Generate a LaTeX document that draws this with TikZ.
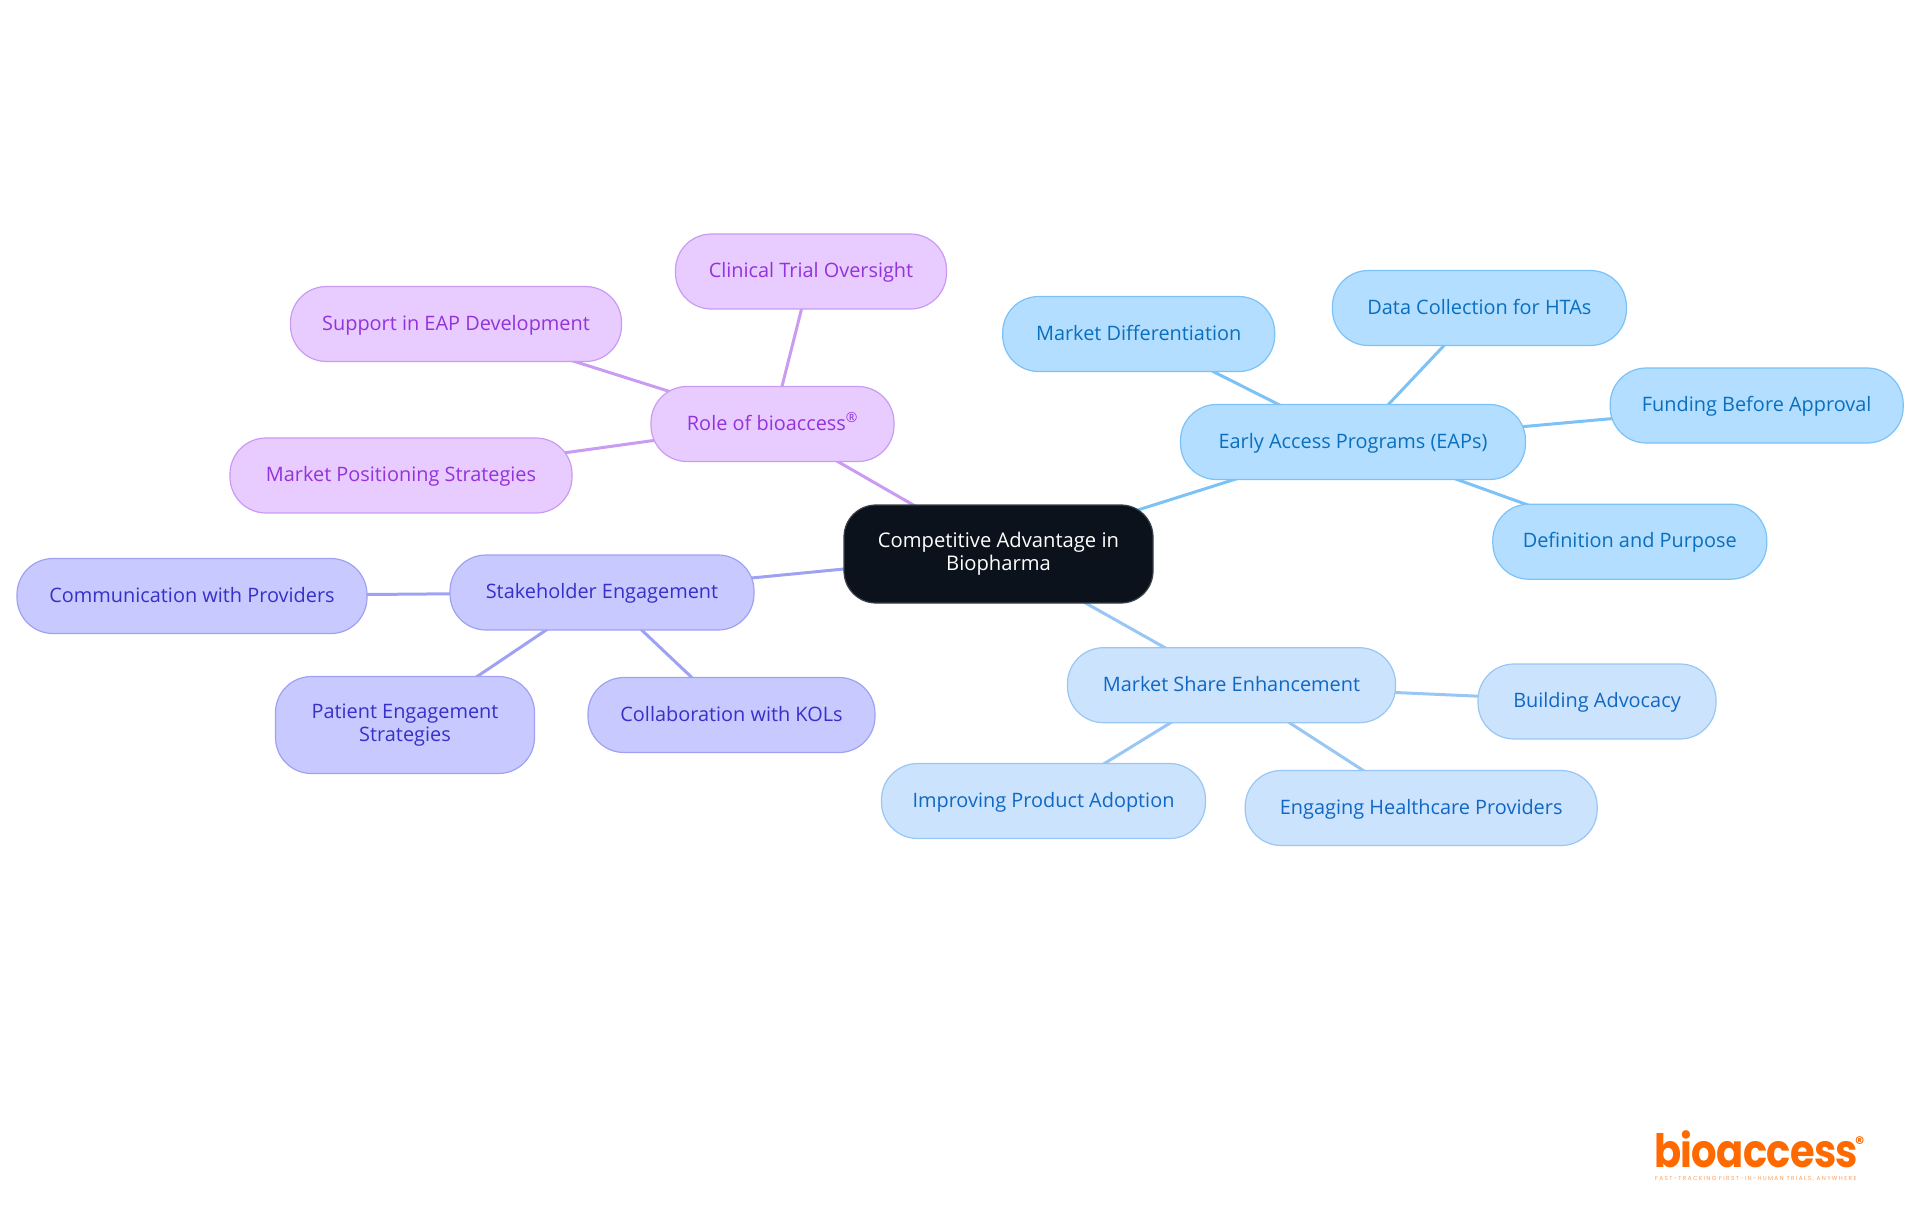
\documentclass[tikz,border=0pt]{standalone}
\usepackage{fontspec}
\setmainfont{Open Sans}
\newfontfamily\logofont[LetterSpace=-1.5,FakeStretch=0.87]{Poppins}
\newfontfamily\markfont{Poppins}
\newfontfamily\tagfont[LetterSpace=23]{Poppins}
\usetikzlibrary{backgrounds}
\definecolor{rootFill}{HTML}{0B121B}
\definecolor{rootDraw}{HTML}{3A4048}
\definecolor{roleFill}{HTML}{E8CCFF}
\definecolor{roleDraw}{HTML}{C99BF3}
\definecolor{roleText}{HTML}{9333DB}
\definecolor{holderFill}{HTML}{C8CAFF}
\definecolor{holderDraw}{HTML}{9FA1F2}
\definecolor{holderText}{HTML}{3730C8}
\definecolor{eapFill}{HTML}{B3DEFF}
\definecolor{eapDraw}{HTML}{7CC2F6}
\definecolor{eapText}{HTML}{0A6FBE}
\definecolor{shareFill}{HTML}{CCE3FD}
\definecolor{shareDraw}{HTML}{9AC6F3}
\definecolor{shareText}{HTML}{1068C4}
\definecolor{logoOrange}{HTML}{FF6A00}
\tikzset{mapNode/.style={rectangle,rounded corners=36pt,line width=1.2pt,inner sep=0pt,minimum height=75pt,align=center,text height=16.8pt,text depth=4.8pt,font=\fontsize{19.9}{23}\selectfont}}
\tikzset{twoLines/.style={text height={},text depth={}}}
\tikzset{rootNode/.style={mapNode,twoLines,rounded corners=32pt,minimum height=98pt,fill=rootFill,draw=rootDraw,text=white}}
\tikzset{roleNode/.style={mapNode,fill=roleFill,draw=roleDraw,text=roleText}}
\tikzset{holderNode/.style={mapNode,fill=holderFill,draw=holderDraw,text=holderText}}
\tikzset{eapNode/.style={mapNode,fill=eapFill,draw=eapDraw,text=eapText}}
\tikzset{shareNode/.style={mapNode,fill=shareFill,draw=shareDraw,text=shareText}}
\tikzset{mapEdge/.style={line width=3pt}}

\begin{document}
\begin{tikzpicture}[x=1pt,y=-1pt]
\useasboundingbox (0,0) rectangle (1920,1215);

% centre
\node[rootNode,font=\fontsize{20.2}{23}\selectfont,minimum width=309pt] (root) at (998.5,554) {Competitive Advantage in\\Biopharma};

% role branch
\node[roleNode,minimum width=243pt] (role) at (772.5,424) {Role of bioaccess\textsuperscript{®}};
\node[roleNode,minimum width=271pt] (oversight) at (811,271.5) {Clinical Trial Oversight};
\node[roleNode,minimum width=331pt] (support) at (456,324) {Support in EAP Development};
\node[roleNode,minimum width=342pt] (positioning) at (401,475.5) {Market Positioning Strategies};

% stakeholder branch
\node[holderNode,minimum width=304pt] (holder) at (602,592.5) {Stakeholder Engagement};
\node[holderNode,minimum width=350pt] (providers) at (192,596) {Communication with Providers};
\node[holderNode,twoLines,minimum width=259pt,minimum height=97pt] (patient) at (405,725) {Patient Engagement\\Strategies};
\node[holderNode,minimum width=287pt] (kols) at (731.5,715) {Collaboration with KOLs};

% early access branch
\node[eapNode,minimum width=345pt] (eap) at (1353,442) {Early Access Programs (EAPs)};
\node[eapNode,minimum width=272pt] (differentiation) at (1138.7,334) {Market Differentiation};
\node[eapNode,minimum width=294pt] (hta) at (1479.4,308) {Data Collection for HTAs};
\node[eapNode,minimum width=293pt] (funding) at (1756.7,405.5) {Funding Before Approval};
\node[eapNode,minimum width=274pt] (definition) at (1629.8,541.7) {Definition and Purpose};

% market share branch
\node[shareNode,minimum width=328pt] (share) at (1231.5,685.2) {Market Share Enhancement};
\node[shareNode,minimum width=238pt] (advocacy) at (1597,701.5) {Building Advocacy};
\node[shareNode,minimum width=352pt] (healthcare) at (1421.2,808) {Engaging Healthcare Providers};
\node[shareNode,minimum width=324pt] (adoption) at (1043.5,801) {Improving Product Adoption};

% edges
\begin{scope}[on background layer]
\draw[mapEdge,roleDraw] (root.center) -- (role.center);
\draw[mapEdge,roleDraw] (role.center) -- (oversight.center);
\draw[mapEdge,roleDraw] (role.center) -- (support.center);
\draw[mapEdge,roleDraw] (role.center) -- (positioning.center);
\draw[mapEdge,holderDraw] (root.center) -- (holder.center);
\draw[mapEdge,holderDraw] (holder.center) -- (providers.center);
\draw[mapEdge,holderDraw] (holder.center) -- (patient.center);
\draw[mapEdge,holderDraw] (holder.center) -- (kols.center);
\draw[mapEdge,eapDraw] (root.center) -- (eap.center);
\draw[mapEdge,eapDraw] (eap.center) -- (differentiation.center);
\draw[mapEdge,eapDraw] (eap.center) -- (hta.center);
\draw[mapEdge,eapDraw] (eap.center) -- (funding.center);
\draw[mapEdge,eapDraw] (eap.center) -- (definition.center);
\draw[mapEdge,shareDraw] (root.center) -- (share.center);
\draw[mapEdge,shareDraw] (share.center) -- (advocacy.center);
\draw[mapEdge,shareDraw] (share.center) -- (healthcare.center);
\draw[mapEdge,shareDraw] (share.center) -- (adoption.center);
\end{scope}

% logo
\node[anchor=base west,inner sep=0pt,text=logoOrange,font=\fontsize{46}{46}\logofont\bfseries] (logo) at (1654,1167) {bioaccess};
\node[anchor=base west,inner sep=0pt,text=logoOrange,font=\fontsize{18}{18}\markfont\bfseries] (logomark) at (1855,1149) {®};
\node[anchor=base west,inner sep=0pt,text=logoOrange!65,font=\fontsize{5.8}{6}\tagfont] (tagline) at (1655,1180) {FAST-TRACKING FIRST-IN-HUMAN TRIALS, ANYWHERE};
\end{tikzpicture}
\end{document}
